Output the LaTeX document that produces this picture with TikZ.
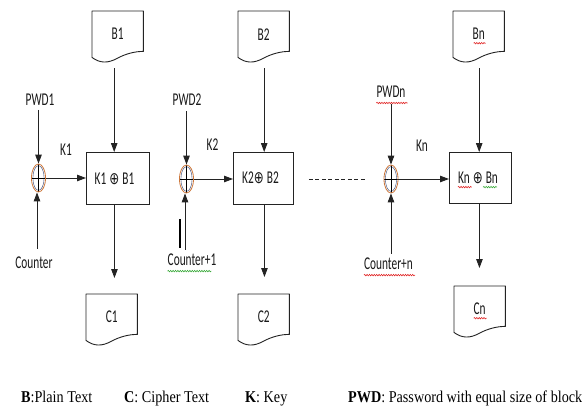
\documentclass[tikz,border=0pt]{standalone}
\usepackage{fontspec}
\setmainfont{Carlito}[FakeStretch=0.63]
\newfontfamily\symfont{DejaVu Sans}[FakeStretch=0.7]
\newfontfamily\legendfont{Liberation Serif}[FakeStretch=0.86]
\usetikzlibrary{arrows.meta,calc,shapes.geometric,decorations.pathmorphing}

\definecolor{inkline}{RGB}{35,35,35}
\definecolor{xororange}{RGB}{205,120,60}
\definecolor{xorblue}{RGB}{50,70,120}
\definecolor{spellred}{RGB}{225,40,40}
\definecolor{spellgreen}{RGB}{60,170,60}

\newcommand\xorsym{{\symfont\fontsize{17}{17}\selectfont ⊕}}
% document (flowchart) outline with a wavy bottom edge
\newcommand\docoutline[1]{%
  \draw[docline] (#1.south west) -- (#1.north west) -- (#1.north east)
    -- ($(#1.south east)+(0,-6)$)
    .. controls ($(#1.south east)+(-8,-6)$) and ($(#1.south east)+(-17,-4)$) .. ($(#1.south west)+(25,1)$)
    .. controls ($(#1.south west)+(16,6)$) and ($(#1.south west)+(8,6)$) .. cycle;}

\tikzset{
  lbl/.style={inner sep=0pt, text=black!90, font=\fontsize{18}{20}\selectfont},
  docnode/.style={lbl, anchor=north west, minimum width=51pt, minimum height=46pt},
  docline/.style={draw=inkline, line width=0.9pt, line join=round},
  opbox/.style={draw=inkline, line width=0.9pt, anchor=north west, inner sep=0pt},
  xorop/.style={ellipse, draw=xororange, line width=0.8pt, minimum width=14pt, minimum height=28pt, inner sep=0pt,
    path picture={
      \draw[xorblue, line width=0.4pt] (path picture bounding box.center) ellipse (5.6pt and 12.4pt);
      \draw[black, line width=0.7pt]
        (path picture bounding box.north) -- (path picture bounding box.south)
        (path picture bounding box.west) -- (path picture bounding box.east);}},
  arr/.style={-{Triangle[length=9pt,width=6.5pt]}, draw=inkline, line width=0.9pt},
  dotted link/.style={draw=inkline, line width=1pt, dash pattern=on 4pt off 2.5pt},
  wavyred/.style={draw=spellred, line width=0.6pt, decorate, decoration={snake, amplitude=0.7pt, segment length=2.4pt}},
  wavygreen/.style={draw=spellgreen, line width=0.6pt, decorate, decoration={snake, amplitude=0.7pt, segment length=2.4pt}},
  legend/.style={inner sep=0pt, anchor=base west, font=\legendfont\fontsize{16.5}{18}\selectfont}
}

\begin{document}
\begin{tikzpicture}[x=1pt, y=-1pt]
\useasboundingbox[fill=white] (0,0) rectangle (582,413);

% ---------------- stage 1 ----------------
\node[docnode] (b1) at (92,11) {B1};
\docoutline{b1}
\node[opbox, minimum width=63pt, minimum height=52pt] (k1) at (86,152) {};
\node[lbl] (k1txt) at (114.5,179) {K1\,\xorsym\,B1};
\node[xorop] (x1) at (38.5,178) {};
\node[lbl] (p1) at (40,100) {PWD1};
\node[lbl] (kk1) at (66,150) {K1};
\node[lbl] (c1lbl) at (34,263) {Counter};
\node[docnode] (c1) at (86,294) {C1};
\docoutline{c1}

\draw[arr] ($(b1.south)+(-3.5,11)$) coordinate (b1o) -- (b1o |- k1.north);
\draw[arr] (x1.north |- p1.south) ++(0,4) -- (x1.north);
\draw[arr] (x1.east) -- (k1.west |- x1.east);
\draw[arr] ($(c1lbl.north)+(3,-8)$) coordinate (c1i) -- (c1i |- x1.south);
\draw[arr] ($(k1.south)+(-3.5,0)$) coordinate (k1o) -- ($(k1o |- c1.north)+(0,-16)$);

% ---------------- stage 2 ----------------
\node[docnode] (b2) at (238,11) {B2};
\docoutline{b2}
\node[opbox, minimum width=60pt, minimum height=52pt] (k2) at (233,152) {};
\node[lbl] (k2txt) at (260.5,178) {K2\xorsym\,B2};
\node[xorop] (x2) at (186.5,179) {};
\node[lbl] (p2) at (187,100) {PWD2};
\node[lbl] (kk2) at (212.5,145) {K2};
\node[lbl] (c2lbl) at (192,260) {Counter+1};
\draw[wavygreen] ($(c2lbl.south west)+(0,5)$) -- ($(c2lbl.south east)+(-5,5)$);
\node[docnode] (c2) at (238,294) {C2};
\docoutline{c2}

\draw[arr] ($(b2.south)+(0.5,11)$) coordinate (b2o) -- (b2o |- k2.north);
\draw[arr] (x2.north |- p2.south) ++(0,5) -- (x2.north);
\draw[arr] (x2.east) -- (k2.west |- x2.east);
\draw[arr] ($(c2lbl.north)+(-7,-4)$) coordinate (c2i) -- (c2i |- x2.south);
\draw[line width=1.2pt, black] (180,219) -- (180,248);
\draw[arr] ($(k2.south)+(1,0)$) coordinate (k2o) -- ($(k2o |- c2.north)+(0,-17)$);

% gap between stage 2 and stage n
\coordinate (gapa) at ($(k2.east)+(15,0)$);
\coordinate (gapb) at (365,179);
\draw[dotted link] (gapa |- gapb) -- (gapb);

% ---------------- stage n ----------------
\node[docnode] (bn) at (453,11) {Bn};
\docoutline{bn}
\draw[wavyred] ($(bn.center)+(-5,9)$) -- ++(12,0);
\node[opbox, minimum width=62pt, minimum height=51pt] (kn) at (449,152) {};
\node[lbl] (kntxt) at (478,178) {Kn\,\xorsym\,Bn};
\draw[wavyred] ($(kntxt.south west)+(0,3)$) -- ++(14,0);
\draw[wavygreen] ($(kntxt.south east)+(-15,3)$) -- ++(14,0);
\node[xorop] (xn) at (391,179) {};
\node[lbl] (pn) at (391,92) {PWDn};
\draw[wavyred] ($(pn.south west)+(0,5)$) -- ($(pn.south east)+(2,5)$);
\node[lbl] (kkn) at (422,146) {Kn};
\node[lbl] (cnlbl) at (388.5,264) {Counter+n};
\draw[wavyred] ($(cnlbl.south west)+(0,5)$) -- ($(cnlbl.south east)+(2,5)$);
\node[docnode] (cn) at (454,286) {Cn};
\docoutline{cn}
\draw[wavyred] ($(cn.center)+(-6,9)$) -- ++(13,0);

\draw[arr] ($(bn.south)+(0.5,11)$) coordinate (bno) -- (bno |- kn.north);
\draw[arr] (xn.north |- pn.south) ++(0,6) -- (xn.north);
\draw[arr] (xn.east) -- (kn.west |- xn.east);
\draw[arr] ($(cnlbl.north)+(2.5,-4)$) coordinate (cni) -- (cni |- xn.south);
\draw[arr] ($(kn.south)+(-1,0)$) coordinate (kno) -- ($(kno |- cn.north)+(0,-18)$);

% ---------------- legend ----------------
\node[legend] (legb) at (21,402) {\textbf{B}:Plain Text};
\node[legend] (legc) at (124,402) {\textbf{C}: Cipher Text};
\node[legend] (legk) at (245,402) {\textbf{K}: Key};
\node[legend] (legp) at (348,402) {\textbf{PWD}: Password with equal size of block};
\end{tikzpicture}
\end{document}
